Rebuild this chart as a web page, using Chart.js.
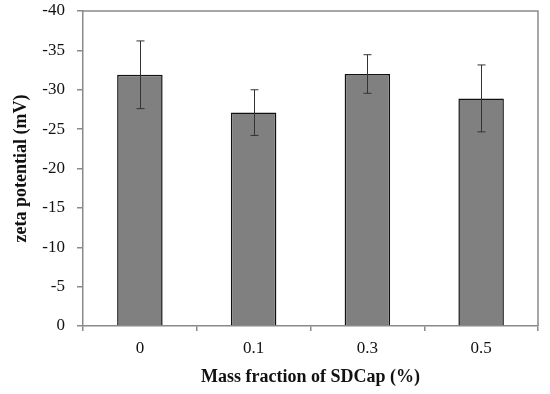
<!DOCTYPE html>
<html>
<head>
<meta charset="utf-8">
<script src="https://cdn.jsdelivr.net/npm/chart.js@4"></script>
<style>
  html, body { margin: 0; padding: 0; background: #fff; }
  #wrap { width: 550px; height: 394px; }
</style>
</head>
<body>
<div id="wrap"><canvas id="chart"></canvas></div>
<script>
const categories = ['0', '0.1', '0.3', '0.5'];
const zeta = [-31.9, -27.1, -32.0, -28.9];
const errors = [4.3, 2.9, 2.45, 4.25];
const yTicks = [0, -5, -10, -15, -20, -25, -30, -35, -40];

const axisColor = '#8a8a8a';
const fontFamily = '"Liberation Serif", "Times New Roman", serif';
const tickFont = { family: fontFamily, size: 17 };
const titleFont = { family: fontFamily, size: 18, weight: 'bold' };

// error bars + the top/right frame lines
const extras = {
    id: 'extras',
    afterDatasetsDraw(chart) {
        const ctx = chart.ctx;
        const area = chart.chartArea;
        const y = chart.scales.y;
        const meta = chart.getDatasetMeta(0);
        ctx.save();
        ctx.strokeStyle = axisColor;
        ctx.lineWidth = 1.5;
        ctx.beginPath();
        ctx.moveTo(area.left, area.top);
        ctx.lineTo(area.right, area.top);
        ctx.lineTo(area.right, area.bottom);
        ctx.stroke();

        ctx.strokeStyle = '#333';
        ctx.lineWidth = 1;
        meta.data.forEach((bar, i) => {
            const x = Math.round(bar.x) + 0.5;
            const top = y.getPixelForValue(zeta[i] - errors[i]);
            const bottom = y.getPixelForValue(zeta[i] + errors[i]);
            ctx.beginPath();
            ctx.moveTo(x, top);
            ctx.lineTo(x, bottom);
            ctx.moveTo(x - 4, top);
            ctx.lineTo(x + 4, top);
            ctx.moveTo(x - 4, bottom);
            ctx.lineTo(x + 4, bottom);
            ctx.stroke();
        });
        ctx.restore();
    }
};

new Chart(document.getElementById('chart'), {
    type: 'bar',
    data: {
        labels: categories,
        datasets: [{
            data: zeta,
            backgroundColor: '#808080',
            borderColor: '#111',
            borderWidth: 1.5,
            barPercentage: 0.4,
            categoryPercentage: 1
        }]
    },
    options: {
        responsive: true,
        maintainAspectRatio: false,
        animation: false,
        layout: { padding: { top: 11, right: 12, left: 0, bottom: 0 } },
        plugins: {
            legend: { display: false },
            tooltip: { enabled: false }
        },
        scales: {
            x: {
                offset: true,
                afterFit(scale) { scale.height = 68; },
                grid: {
                    offset: true,
                    drawOnChartArea: false,
                    color: axisColor,
                    lineWidth: 1.5,
                    tickLength: 5
                },
                border: { color: axisColor, width: 1.5 },
                ticks: { color: '#111', font: tickFont, padding: 7 },
                title: {
                    display: true,
                    text: 'Mass fraction of SDCap (%)',
                    color: '#111',
                    font: titleFont,
                    padding: { top: 0, bottom: 6 }
                }
            },
            y: {
                reverse: true,
                min: -40,
                max: 0,
                afterFit(scale) {
                    scale.width = 83;
                    scale.paddingTop = 0;
                    scale.paddingBottom = 0;
                },
                afterBuildTicks(scale) {
                    scale.ticks = yTicks.map(v => ({ value: v }));
                },
                grid: {
                    drawOnChartArea: false,
                    color: axisColor,
                    lineWidth: 1.5,
                    tickLength: 6
                },
                border: { color: axisColor, width: 1.5 },
                ticks: { color: '#111', font: tickFont, padding: 12 },
                title: {
                    display: true,
                    text: 'zeta potential (mV)',
                    color: '#111',
                    font: titleFont,
                    padding: { top: 11, bottom: 0 }
                }
            }
        }
    },
    plugins: [extras]
});
</script>
</body>
</html>
